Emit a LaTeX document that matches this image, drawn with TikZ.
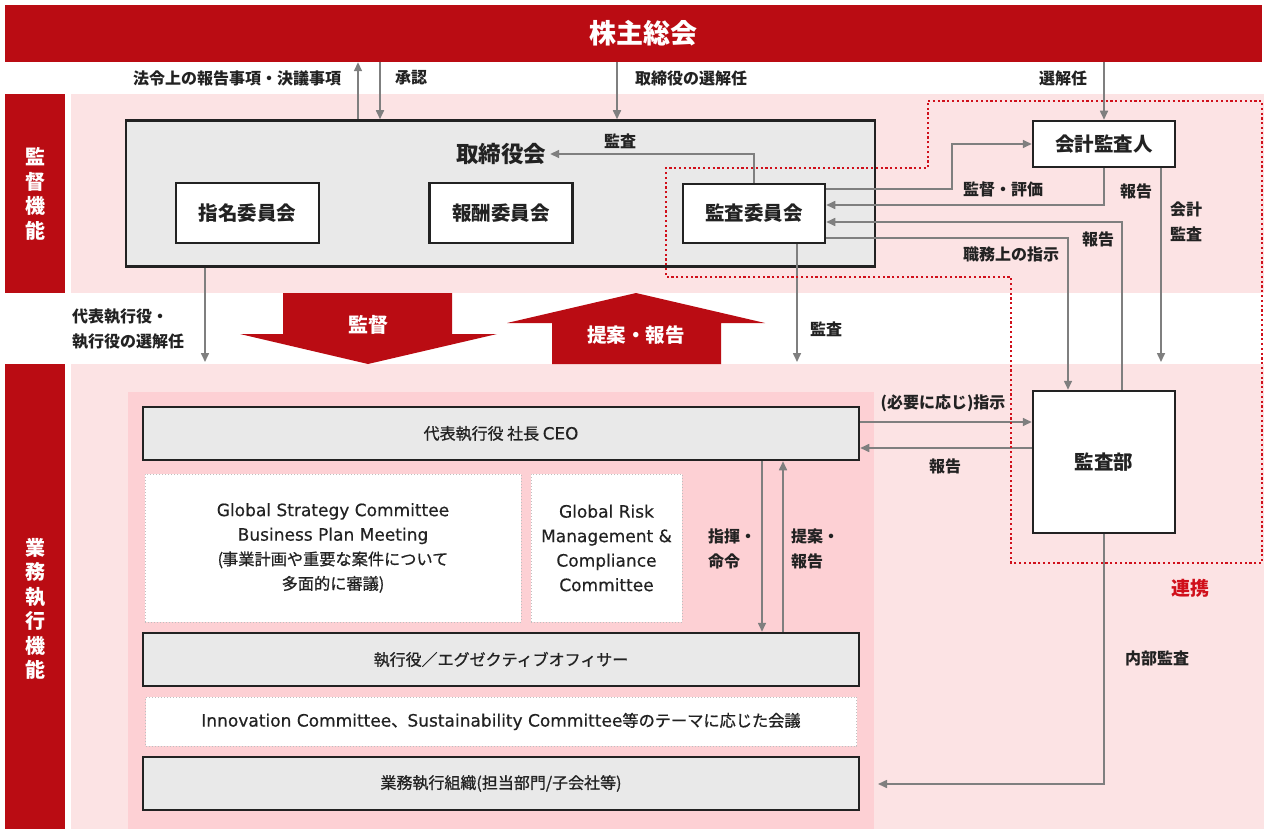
\documentclass[tikz,border=0pt]{standalone}
\usepackage{fontspec}
\setmainfont{Noto Sans CJK JP}
\newfontfamily\medjp{Noto Sans CJK JP}[FakeBold=0.8]
\newfontfamily\lat{DejaVu Sans}[Scale=1.05, FakeBold=0.4]
\usetikzlibrary{arrows.meta}

\definecolor{kred}{HTML}{BA0C13}
\definecolor{bgpink}{HTML}{FCE3E4}
\definecolor{inpink}{HTML}{FDD0D4}
\definecolor{boxgray}{HTML}{E9E9E9}
\definecolor{linegray}{HTML}{7F7F7F}
\definecolor{dotred}{HTML}{D0101B}
\definecolor{ink}{HTML}{222222}

\begin{document}
\begin{tikzpicture}[x=1pt, y=-1pt,
  every node/.style={inner sep=0pt, text=ink},
  lbl/.style={font=\fontsize{16}{24.5}\selectfont\bfseries, align=left},
  wbox/.style={draw=ink, line width=2.5pt, fill=white, font=\fontsize{19.5}{22}\selectfont\bfseries},
  gbox/.style={draw=ink, line width=2.5pt, fill=boxgray, font=\fontsize{16}{20}\selectfont\medjp},
  dbox/.style={draw=black!25, dotted, line width=1pt, fill=white, align=center, font=\fontsize{16.2}{24.5}\selectfont\medjp},
  side/.style={text=white, align=center, font=\fontsize{20}{24.5}\selectfont\bfseries},
  arr/.style={draw=linegray, line width=1.6pt, -{Triangle[length=9pt,width=8pt]}},
  dotline/.style={draw=dotred, line width=2.2pt, dash pattern=on 2.2pt off 2.6pt},
]
  \useasboundingbox (0,0) rectangle (1264,829);

  \fill[bgpink] (71,94) rectangle (1264,293);
  \fill[bgpink] (71,364) rectangle (1264,829);
  \fill[inpink] (128,392) rectangle (874,829);
  \fill[kred] (5,94) rectangle (65,293);
  \fill[kred] (5,364) rectangle (65,829);

  \node[fill=kred, minimum width=1257pt, minimum height=57pt, text=white,
        font=\fontsize{27}{30}\selectfont\bfseries] (agm) at (633.5,33.5) {\hspace*{19pt}株主総会};
  \node[side] (sup) at (35,194) {監\\督\\機\\能};
  \node[side] (exe) at (35,609) {業\\務\\執\\行\\機\\能};

  \node[gbox, minimum width=749pt, minimum height=146pt] (board) at (500.5,193.5) {};
  \node[font=\fontsize{22.5}{26}\selectfont\bfseries] (boardt) at (501,154) {取締役会};
  \node[wbox, minimum width=143pt, minimum height=60pt] (nom) at (247.5,213) {指名委員会};
  \node[wbox, minimum width=143pt, minimum height=60pt] (rem) at (501,213) {報酬委員会};
  \node[wbox, minimum width=142pt, minimum height=59pt] (audc) at (754,213.5) {監査委員会};
  \node[wbox, minimum width=142pt, minimum height=46pt] (acct) at (1104,144) {会計監査人};
  \node[wbox, minimum width=142pt, minimum height=142pt] (iad) at (1104,462) {監査部};

  \node[gbox, minimum width=716pt, minimum height=53pt] (ceo) at (501,433.5) {代表執行役 社長 {\lat CEO}};
  \node[dbox, minimum width=376pt, minimum height=148pt] (gsc) at (333,548)
    {{\lat Global Strategy Committee}\\{\lat Business Plan Meeting}\\({\kern-1pt}事業計画や重要な案件について\\多面的に審議)};
  \node[dbox, minimum width=151pt, minimum height=148pt] (grc) at (606.5,548)
    {\lat Global Risk\\\lat Management \&\\\lat Compliance\\\lat Committee};
  \node[gbox, minimum width=716pt, minimum height=53pt] (eo) at (501,659.5) {執行役／エグゼクティブオフィサー};
  \node[dbox, minimum width=711pt, minimum height=49pt] (inn) at (501,721.5)
    {{\lat Innovation Committee}、{\lat Sustainability Committee}等のテーマに応じた会議};
  \node[gbox, minimum width=716pt, minimum height=53pt] (ops) at (501,783.5) {業務執行組織(担当部門/子会社等)};

  \fill[kred] (283,293) -- (452,293) -- (452,334) -- (497,334) -- (368,364)
              -- (240,334) -- (283,334) -- cycle;
  \fill[kred] (636,293) -- (765,323) -- (721,323) -- (721,364) -- (552,364)
              -- (552,323) -- (507,323) -- cycle;
  \node[side] (kantoku) at (368,325) {監督};
  \node[side, font=\fontsize{19.5}{22}\selectfont\bfseries] (teian) at (636,335) {提案・報告};

  \coordinate (acctend) at (1161,362);
  \coordinate (audend) at (797,362);
  \coordinate (selend) at (205,362);
  \coordinate (intend) at (878,784);

  \draw[arr] (board.north -| 358,0) -- (agm.south -| 358,0);
  \draw[arr] (agm.south -| 380,0) -- (board.north -| 380,0);
  \draw[arr] (agm.south -| 617,0) -- (board.north -| 617,0);
  \draw[arr] (agm.south -| acct.north) -- (acct.north);
  \draw[arr, shorten >=4pt] (audc.north) |- (boardt.east);
  \draw[arr] (audc.east |- 0,189) -- (952,189) |- (acct.west);
  \draw[arr] (acct.south) |- (audc.east |- 0,205);
  \draw[arr] (iad.north -| 1122,0) |- (audc.east |- 0,222);
  \draw[arr] (audc.east |- 0,238) -| (iad.north -| 1068,0);
  \draw[arr] (acct.south -| acctend) -- (acctend);
  \draw[arr] (audc.south -| audend) -- (audend);
  \draw[arr] (board.south -| selend) -- (selend);
  \draw[arr] (ceo.east |- 0,422) -- (iad.west |- 0,422);
  \draw[arr] (iad.west |- 0,448) -- (ceo.east |- 0,448);
  \draw[arr] (ceo.south -| 762,0) -- (eo.north -| 762,0);
  \draw[arr] (eo.north -| 783,0) -- (ceo.south -| 783,0);
  \draw[arr] (iad.south) |- (intend);

  \draw[dotline] (928,101) -- (1262,101) -- (1262,563) -- (1011,563) -- (1011,277)
                 -- (666,277) -- (666,168) -- (928,168) -- cycle;

  \node[lbl] (l1) at (237,78) {法令上の報告事項・決議事項};
  \node[lbl] (l2) at (411,78) {承認};
  \node[lbl] (l3) at (691,78) {取締役の選解任};
  \node[lbl] (l4) at (1063,78) {選解任};
  \node[lbl] (l5) at (620,141) {監査};
  \node[lbl] (l6) at (1003,189) {監督・評価};
  \node[lbl] (l7) at (1136,191) {報告};
  \node[lbl] (l8) at (1098,239) {報告};
  \node[lbl] (l9) at (1011,254) {職務上の指示};
  \node[lbl, anchor=west] (l10) at (1170,222) {会計\\監査};
  \node[lbl, anchor=west] (l11) at (72,329) {代表執行役・\\執行役の選解任};
  \node[lbl] (l12) at (826,329) {監査};
  \node[lbl] (l13) at (943,403) {(必要に応じ)指示};
  \node[lbl] (l14) at (945,466) {報告};
  \node[lbl, anchor=west] (l15) at (708,549) {指揮・\\命令};
  \node[lbl, anchor=west] (l16) at (791,549) {提案・\\報告};
  \node[lbl] (l17) at (1157,658) {内部監査};
  \node[lbl, text=dotred, font=\fontsize{19}{22}\selectfont\bfseries] (renkei) at (1190,588) {連携};
\end{tikzpicture}
\end{document}
